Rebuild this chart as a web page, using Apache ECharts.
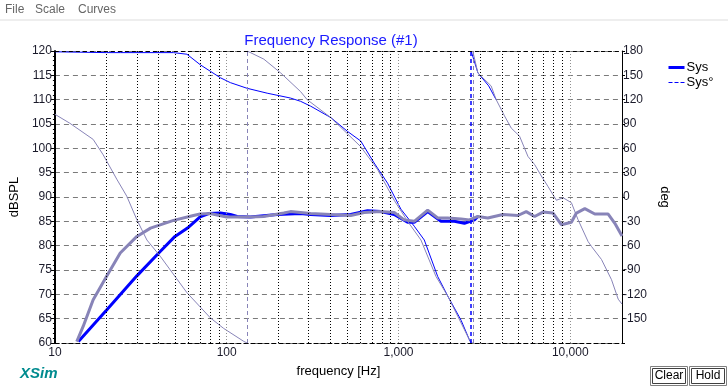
<!DOCTYPE html>
<html><head><meta charset="utf-8">
<script src="https://cdn.jsdelivr.net/npm/echarts@6/dist/echarts.min.js"></script>
<style>html,body{margin:0;padding:0;background:#fff}#c{width:728px;height:388px}</style>
</head><body><div id="c"></div>
<script>
// ---- data ----
const sysMagFreq = [13.7, 20, 30, 41, 50, 60, 70, 78.5, 92, 105, 115, 137, 197, 269, 308, 403, 527, 660, 789, 944, 1130, 1235, 1479, 1768, 2115, 2419, 2767, 2897];
const sysMagDb   = [60.3, 66.8, 73.8, 78.8, 81.9, 83.8, 85.9, 86.6, 86.7, 86.4, 86.0, 85.9, 86.4, 86.6, 86.4, 86.2, 86.4, 87.2, 87.0, 86.4, 84.8, 84.8, 87.0, 85.0, 85.0, 84.6, 85.3, 86.0];

const sysPhaseFreq = [10, 20, 24, 49, 58.7, 70.2, 80.3, 91.9, 105, 131.5, 172, 235, 269, 308, 403, 504, 603, 721, 864, 903, 1033, 1235, 1413, 1691, 1934, 2314, 2586, 2646, 2646, 2900, 3350, 3700];
const sysPhaseDeg  = [179, 178, 178, 178, 176, 163, 155, 147, 141, 134, 128, 122, 118, 112, 98, 81, 69, 42, 17, 9, -15, -36, -53, -98, -122, -152, -176, -180, 180, 153, 137, 120];

const holdMagFreq = [13.4, 14.6, 16.7, 20, 24, 30, 36, 49, 64, 70, 80, 100, 137, 164, 215, 235, 269, 308, 403, 527, 631, 789, 944, 1080, 1235, 1479, 1691, 1934, 2314, 2586, 2897, 3311, 4053, 4955, 5540, 6200, 6934, 7935, 8872, 10150, 10850, 12150, 13890, 16620, 18170, 20000];
const holdMagDb   = [60.3, 63.4, 68.9, 73.7, 78.5, 81.9, 83.6, 85.2, 86.2, 86.5, 86.6, 85.9, 85.9, 86.0, 86.7, 87.0, 86.8, 86.6, 86.4, 86.2, 86.8, 87.0, 86.8, 85.3, 85.0, 87.3, 85.7, 85.7, 85.5, 85.3, 86.0, 85.7, 86.4, 86.2, 87.0, 86.0, 86.9, 86.7, 84.3, 84.8, 86.7, 87.6, 86.5, 86.5, 84.6, 82.0];

const holdPhaseFreq = [10, 12.2, 16.7, 19.1, 22.9, 26.2, 30, 34.3, 41, 58.7, 80.3, 96, 125.7, 131.5, 131.5, 164.4, 206, 269, 294, 403, 603, 755, 944, 1130, 1351, 1653, 1934, 2213, 2586, 2707, 2707, 2897, 3460, 3704, 4140, 4530, 5066, 5670, 6200, 6780, 7415, 8297, 9080, 10150, 11100, 12700, 13290, 15190, 17380, 19010, 20000];
const holdPhaseDeg  = [102, 91, 71, 52, 22, 1, -28, -53, -73, -118, -149, -162, -178, -180, 180, 170, 153, 130, 120, 98, 62, 34, -4, -30, -53, -98, -122, -147, -176, -180, 180, 153, 137, 120, 100, 85, 75, 50, 40, 26, 13, -4, -1, -7, -28, -55, -61, -77, -102, -126, -132];

const sysWrapFreq = [2646];
const holdWrapFreq = [131.5, 2707];

const gridFreqMinor = [20, 30, 40, 50, 60, 70, 80, 90, 200, 300, 400, 500, 600, 700, 800, 900, 2000, 3000, 4000, 5000, 6000, 7000, 8000, 9000];
const gridFreqDecade = [100, 1000, 10000];

const dbTicks = {min: 60, max: 120, step: 5};
const degTicks = {min: -180, max: 180, step: 30};
const freqRange = {min: 10, max: 20000};

// ---- helpers ----
function pairs(xs, ys) { return xs.map((x, i) => [x, ys[i]]); }
function phasePairs(xs, ys) {
  const out = [];
  for (let i = 0; i < xs.length; i++) {
    if (i > 0 && Math.abs(ys[i] - ys[i - 1]) > 180) out.push([xs[i], '-']);
    out.push([xs[i], ys[i]]);
  }
  return out;
}
const FONT = 'Liberation Sans';
const BLUE = '#0000ff';
const GRAY = '#8884b8';

const chart = echarts.init(document.getElementById('c'), null, {renderer: 'canvas'});
const option = {
  animation: false,
  backgroundColor: '#fff',
  textStyle: {fontFamily: FONT},
  title: {
    text: 'Frequency Response (#1)', left: 326, top: 28, textAlign: 'center',
    textStyle: {color: '#1a1aff', fontSize: 15, fontWeight: 'normal', fontFamily: FONT}
  },
  legend: {
    orient: 'vertical', left: 667, top: 61, padding: 0, itemWidth: 16, itemHeight: 12, itemGap: 2,
    textStyle: {fontSize: 13, color: '#000', fontFamily: FONT, padding: [0, 0, 0, -3]},
    data: [
      {name: 'Sys', lineStyle: {color: BLUE, width: 3, type: 'solid'}, itemStyle: {opacity: 0}},
      {name: 'Sys°', lineStyle: {color: BLUE, width: 1, type: 'dashed'}, itemStyle: {opacity: 0}}
    ]
  },
  grid: {left: 54, right: 106, top: 51, bottom: 45},
  xAxis: {
    type: 'log', logBase: 10, min: freqRange.min, max: freqRange.max,
    name: 'frequency [Hz]', nameLocation: 'middle', nameGap: 22,
    nameTextStyle: {fontSize: 13, color: '#000', fontFamily: FONT},
    axisLine: {onZero: false, lineStyle: {color: '#000', width: 1, type: [4, 3]}},
    axisTick: {show: false},
    axisLabel: {fontSize: 12, color: '#1a1a2a', margin: 4, fontFamily: FONT, showMaxLabel: false,
      formatter: v => Number(v).toLocaleString('en-US')},
    splitLine: {show: false}
  },
  yAxis: [
    {
      type: 'value', min: dbTicks.min, max: dbTicks.max, interval: dbTicks.step,
      name: 'dBSPL', nameLocation: 'middle', nameGap: 32, nameRotate: 90,
      nameTextStyle: {fontSize: 13, color: '#000', fontFamily: FONT},
      axisLine: {show: true, onZero: false, lineStyle: {color: '#000', width: 2}},
      axisTick: {show: true, length: 4, lineStyle: {color: '#000'}},
      minorTick: {show: true, splitNumber: 5, length: 2, lineStyle: {color: '#000'}},
      axisLabel: {fontSize: 12, color: '#1a1a2a', margin: 3, fontFamily: FONT},
      splitLine: {show: true, lineStyle: {color: '#7a7a7a', width: 1, type: [5, 4]}}
    },
    {
      type: 'value', min: degTicks.min, max: degTicks.max, interval: degTicks.step, position: 'right',
      name: 'deg', nameLocation: 'middle', nameGap: 36, nameRotate: -90,
      nameTextStyle: {fontSize: 13, color: '#000', fontFamily: FONT},
      axisLine: {show: true, onZero: false, lineStyle: {color: '#000', width: 1}},
      axisTick: {show: true, length: 3, lineStyle: {color: '#000'}},
      axisLabel: {fontSize: 12, color: '#1a1a2a', margin: 1, fontFamily: FONT,
        formatter: v => (v === degTicks.min ? '' : String(v))},
      splitLine: {show: false}
    }
  ],
  series: [
    {
      name: 'grid', type: 'line', data: [], silent: true, z: 1,
      markLine: {
        silent: true, symbol: 'none', label: {show: false}, animation: false,
        data: [
          ...gridFreqMinor.map(f => ({xAxis: f, lineStyle: {color: '#000', width: 1, type: [1, 2]}})),
          ...gridFreqDecade.map(f => ({xAxis: f, lineStyle: {color: '#909090', width: 1, type: [1, 2]}})),
          {yAxis: dbTicks.max, lineStyle: {color: '#000', width: 1, type: [4, 3]}}
        ]
      }
    },
    {
      name: 'Sys', type: 'line', yAxisIndex: 0, showSymbol: false, symbol: 'none', z: 3,
      lineStyle: {color: BLUE, width: 3}, itemStyle: {color: BLUE},
      data: pairs(sysMagFreq, sysMagDb)
    },
    {
      name: 'Sys°', type: 'line', yAxisIndex: 1, showSymbol: false, symbol: 'none', z: 3,
      connectNulls: false,
      lineStyle: {color: BLUE, width: 1}, itemStyle: {color: BLUE},
      data: phasePairs(sysPhaseFreq, sysPhaseDeg),
      markLine: {
        silent: true, symbol: 'none', label: {show: false},
        data: sysWrapFreq.map(f => ({xAxis: f, lineStyle: {color: BLUE, width: 1.5, type: [4, 3]}}))
      }
    },
    {
      name: 'hold', type: 'line', yAxisIndex: 0, showSymbol: false, symbol: 'none', z: 4,
      lineStyle: {color: GRAY, width: 3}, itemStyle: {color: GRAY},
      data: pairs(holdMagFreq, holdMagDb)
    },
    {
      name: 'hold°', type: 'line', yAxisIndex: 1, showSymbol: false, symbol: 'none', z: 4,
      connectNulls: false,
      lineStyle: {color: GRAY, width: 1}, itemStyle: {color: GRAY},
      data: phasePairs(holdPhaseFreq, holdPhaseDeg),
      markLine: {
        silent: true, symbol: 'none', label: {show: false},
        data: holdWrapFreq.map(f => ({xAxis: f, lineStyle: {color: GRAY, width: 1, type: [4, 3]}}))
      }
    }
  ],
  graphic: [
    {type: 'line', shape: {x1: 0, y1: 20, x2: 728, y2: 20}, style: {stroke: '#eeeeee', lineWidth: 2}},
    {type: 'text', left: 5, top: 4, style: {text: 'File', fontSize: 12, fill: '#666', fontFamily: FONT}},
    {type: 'text', left: 35, top: 4, style: {text: 'Scale', fontSize: 12, fill: '#666', fontFamily: FONT}},
    {type: 'text', left: 78, top: 4, style: {text: 'Curves', fontSize: 12, fill: '#666', fontFamily: FONT}},
    {type: 'text', left: 20, top: 366, style: {text: 'XSim', fontSize: 15, fontWeight: 'bold', fontStyle: 'italic', fill: '#008b8f', fontFamily: FONT}},
    {type: 'rect', shape: {x: 650.5, y: 366.5, width: 37, height: 19}, style: {fill: '#fff', stroke: '#808080', lineWidth: 1}},
    {type: 'rect', shape: {x: 652.5, y: 368.5, width: 33, height: 15}, style: {fill: 'none', stroke: '#404040', lineWidth: 1}},
    {type: 'text', x: 669, y: 376, style: {text: 'Clear', fontSize: 12, fill: '#000', align: 'center', verticalAlign: 'middle', fontFamily: FONT}},
    {type: 'rect', shape: {x: 689.5, y: 366.5, width: 37, height: 19}, style: {fill: '#fff', stroke: '#808080', lineWidth: 1}},
    {type: 'rect', shape: {x: 691.5, y: 368.5, width: 33, height: 15}, style: {fill: 'none', stroke: '#404040', lineWidth: 1}},
    {type: 'text', x: 708, y: 376, style: {text: 'Hold', fontSize: 12, fill: '#000', align: 'center', verticalAlign: 'middle', fontFamily: FONT}}
  ]
};
chart.setOption(option);
</script></body></html>
